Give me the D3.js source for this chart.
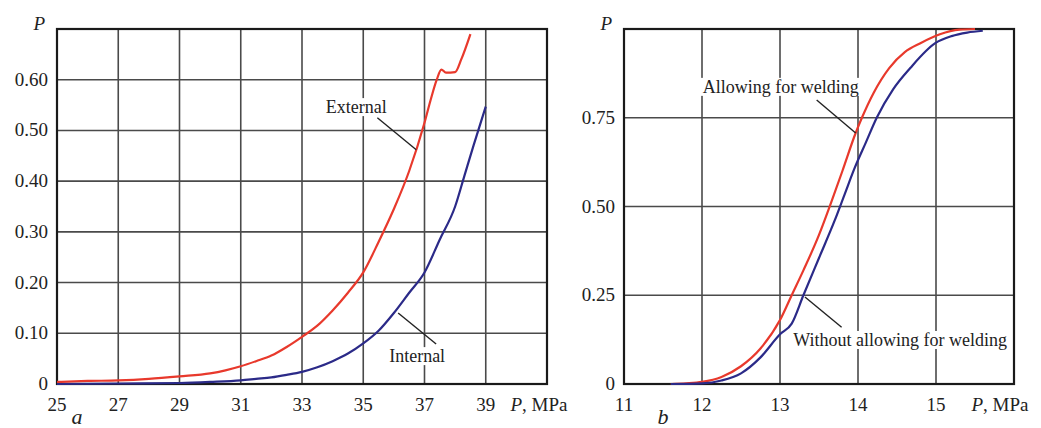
<!DOCTYPE html>
<html>
<head>
<meta charset="utf-8">
<script src="https://cdn.jsdelivr.net/npm/d3@7"></script>
<style>
  body { margin: 0; background: #fff; }
  svg text { font-family: "Liberation Serif", "DejaVu Serif", serif; fill: #222; }
</style>
</head>
<body>
<svg id="chart" width="1041" height="428"></svg>
<script>
// panel a - probability vs pressure, [P MPa, probability]
var externalData = [[25,0.004],[26,0.006],[27,0.007],[28,0.010],[29,0.015],[30,0.021],[30.5,0.027],[31,0.035],
  [31.5,0.045],[32,0.056],[32.5,0.073],[33,0.093],[33.5,0.115],[34,0.145],[34.5,0.18],[35,0.22],[35.5,0.28],
  [36,0.345],[36.5,0.42],[37,0.515],[37.2,0.56],[37.4,0.60],[37.55,0.62],[37.7,0.614],[38,0.615],[38.2,0.64],[38.5,0.69]];
var internalData = [[25,0],[27,0.001],[29,0.002],[30,0.004],[31,0.007],[31.5,0.01],[32,0.013],[32.5,0.018],
  [33,0.024],[33.5,0.033],[34,0.045],[34.5,0.06],[35,0.08],[35.5,0.105],[36,0.14],[36.5,0.18],[37,0.22],
  [37.5,0.285],[38,0.35],[38.3,0.41],[38.6,0.47],[39,0.547]];
var xTicksA = [25,27,29,31,33,35,37,39];
var yTicksA = [0,0.1,0.2,0.3,0.4,0.5,0.6];
var yLabelsA = ["0","0.10","0.20","0.30","0.40","0.50","0.60"];

// panel b
var allowingData = [[11.6,0],[11.8,0.002],[12,0.006],[12.25,0.02],[12.5,0.05],[12.75,0.1],[13,0.18],[13.15,0.25],
  [13.3,0.32],[13.5,0.42],[13.67,0.52],[13.8,0.6],[13.97,0.707],[14.05,0.75],[14.2,0.82],[14.4,0.89],
  [14.6,0.935],[14.8,0.96],[15.05,0.985],[15.3,0.998],[15.5,1.0]];
var withoutData = [[11.6,0],[12,0.002],[12.25,0.01],[12.5,0.03],[12.75,0.075],[13,0.14],[13.15,0.17],[13.3,0.25],
  [13.5,0.355],[13.7,0.46],[13.83,0.535],[13.96,0.61],[14.1,0.68],[14.24,0.75],[14.45,0.83],[14.67,0.89],
  [14.99,0.96],[15.2,0.98],[15.4,0.99],[15.6,0.995]];
var xTicksB = [11,12,13,14,15];
var yTicksB = [0,0.25,0.5,0.75];
var yLabelsB = ["0","0.25","0.50","0.75"];

var RED = "#e8392c", BLUE = "#2b2a88";

var svg = d3.select("#chart");

//画一个面板
function drawPanel(opt){
	var x = d3.scaleLinear().domain(opt.xDomain).range([opt.left, opt.right]);
	var y = d3.scaleLinear().domain(opt.yDomain).range([opt.bottom, opt.top]);
	var g = svg.append("g");

	// grid
	g.selectAll("line.vg").data(opt.xTicks.slice(1)).enter().append("line")
		.attr("x1", d => x(d)).attr("x2", d => x(d))
		.attr("y1", opt.top).attr("y2", opt.bottom)
		.attr("stroke", "#4a4a4a").attr("stroke-width", 1.6);
	g.selectAll("line.hg").data(opt.yTicks.slice(1)).enter().append("line")
		.attr("x1", opt.left).attr("x2", opt.right)
		.attr("y1", d => y(d)).attr("y2", d => y(d))
		.attr("stroke", "#4a4a4a").attr("stroke-width", 1.6);

	// frame
	g.append("rect").attr("x", opt.left).attr("y", opt.top)
		.attr("width", opt.right - opt.left).attr("height", opt.bottom - opt.top)
		.attr("fill", "none").attr("stroke", "#1a1a1a").attr("stroke-width", 2.2);

	// x ticks
	g.selectAll("text.xt").data(opt.xTicks).enter().append("text")
		.attr("x", d => x(d)).attr("y", opt.bottom + 27)
		.attr("text-anchor", "middle").style("font-size", "19px")
		.text(d => d);
	// y ticks
	g.selectAll("text.yt").data(opt.yTicks).enter().append("text")
		.attr("x", opt.left - 9).attr("y", d => y(d) + 6)
		.attr("text-anchor", "end").style("font-size", "19px")
		.text((d, i) => opt.yLabels[i]);

	// axis titles
	g.append("text").attr("x", opt.left - 12).attr("y", opt.top + 1)
		.attr("text-anchor", "end").style("font-size", "19px").style("font-style", "italic")
		.text("P");
	var xt = g.append("text").attr("x", opt.xTitleX).attr("y", opt.bottom + 27)
		.attr("text-anchor", "middle").style("font-size", "19px");
	xt.append("tspan").style("font-style", "italic").text("P");
	xt.append("tspan").text(", MPa");

	// panel letter
	g.append("text").attr("x", opt.letterX).attr("y", 424)
		.attr("text-anchor", "middle").style("font-size", "22px").style("font-style", "italic")
		.text(opt.letter);

	// curves
	var line = d3.line().x(d => x(d[0])).y(d => y(d[1])).curve(d3.curveMonotoneX);
	opt.series.forEach(function(s){
		g.append("path").datum(s.data)
			.attr("d", line).attr("fill", "none")
			.attr("stroke", s.color).attr("stroke-width", 2.2);
	});

	// labels with leader lines
	opt.notes.forEach(function(n){
		var t = g.append("text").attr("x", x(n.tx)).attr("y", y(n.ty) + 6)
			.attr("text-anchor", "middle").style("font-size", "18px").text(n.text);
		var bb = t.node().getBBox();
		g.insert("rect", function(){ return t.node(); })
			.attr("x", bb.x - 3).attr("y", bb.y + 1).attr("width", bb.width + 6).attr("height", bb.height - 2)
			.attr("fill", "#fff");
		g.append("line")
			.attr("x1", x(n.from[0])).attr("y1", y(n.from[1]))
			.attr("x2", x(n.to[0])).attr("y2", y(n.to[1]))
			.attr("stroke", "#222").attr("stroke-width", 1.4);
	});
}

drawPanel({
	left: 57, right: 547, top: 29, bottom: 384,
	xDomain: [25, 41], yDomain: [0, 0.7],
	xTicks: xTicksA, yTicks: yTicksA, yLabels: yLabelsA,
	xTitleX: 539, letter: "a", letterX: 77,
	series: [{data: externalData, color: RED}, {data: internalData, color: BLUE}],
	notes: [
		{text: "External", tx: 34.77, ty: 0.546, from: [35.46, 0.525], to: [36.73, 0.462]},
		{text: "Internal", tx: 36.76, ty: 0.055, from: [36.14, 0.14], to: [37.38, 0.079]}
	]
});

drawPanel({
	left: 624, right: 1014, top: 29, bottom: 384,
	xDomain: [11, 16], yDomain: [0, 1],
	xTicks: xTicksB, yTicks: yTicksB, yLabels: yLabelsB,
	xTitleX: 1000, letter: "b", letterX: 663,
	series: [{data: allowingData, color: RED}, {data: withoutData, color: BLUE}],
	notes: [
		{text: "Allowing for welding", tx: 13.01, ty: 0.837, from: [13.47, 0.8], to: [13.97, 0.707]},
		{text: "Without allowing for welding", tx: 14.54, ty: 0.124, from: [13.32, 0.245], to: [13.79, 0.16]}
	]
});
</script>
</body>
</html>
